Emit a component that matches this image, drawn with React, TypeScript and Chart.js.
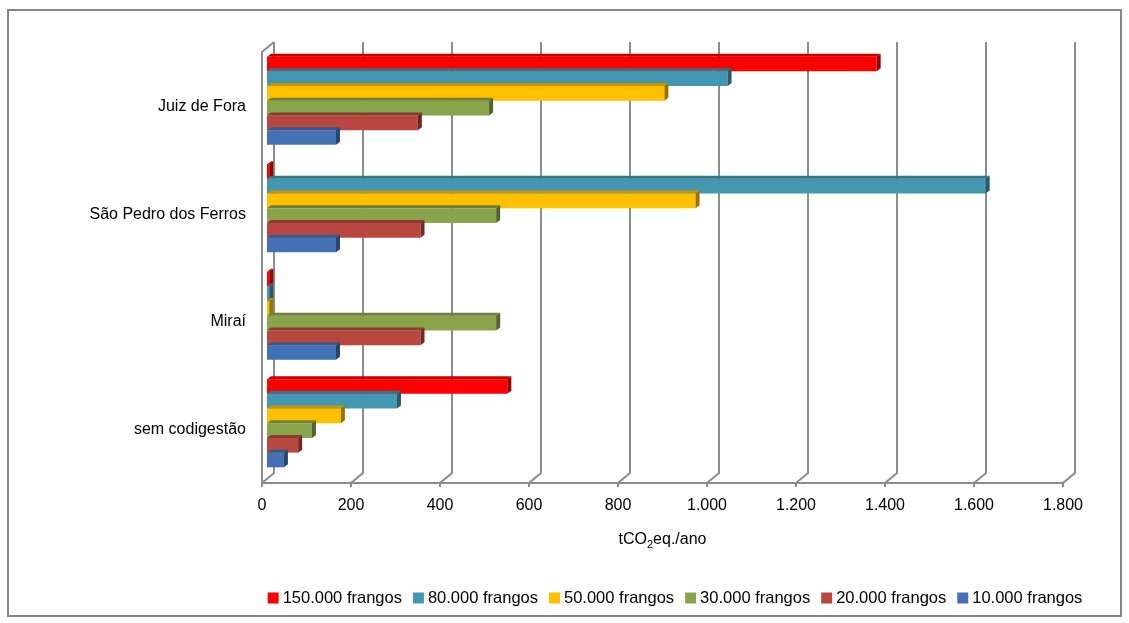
import React, { useEffect, useRef } from 'react';
import { Chart, registerables } from 'chart.js';

Chart.register(...registerables);

// ---- data ----
const categories = ['Juiz de Fora', 'São Pedro dos Ferros', 'Miraí', 'sem codigestão'];
const seriesLabels = [
  '150.000 frangos',
  '80.000 frangos',
  '50.000 frangos',
  '30.000 frangos',
  '20.000 frangos',
  '10.000 frangos',
];
const s150k = [1370, 5, 5, 540];
const s80k = [1035, 1615, 5, 292];
const s50k = [893, 963, 5, 166];
const s30k = [499, 515, 515, 101];
const s20k = [339, 345, 345, 70];
const s10k = [155, 155, 155, 38];
const seriesColors = ['#FF0000', '#4397B0', '#FFC000', '#89A54C', '#B8473F', '#4471B5'];
const tickValues = [0, 200, 400, 600, 800, 1000, 1200, 1400, 1600, 1800];
const tickLabels = ['0', '200', '400', '600', '800', '1.000', '1.200', '1.400', '1.600', '1.800'];
const axisTitleParts = ['tCO', '2', 'eq./ano'];

const FONT = '"Liberation Sans", Arial, sans-serif';

function shade(hex: string, f: number) {
  const n = parseInt(hex.slice(1), 16);
  const r = Math.round(((n >> 16) & 255) * f);
  const g = Math.round(((n >> 8) & 255) * f);
  const b = Math.round((n & 255) * f);
  return `rgb(${r},${g},${b})`;
}

const decorPlugin = {
  id: 'decor3d',
  beforeDatasetsDraw(chart: any) {
    const ctx = chart.ctx;
    const xs = chart.scales.x;
    const area = chart.chartArea;
    const frontY = area.bottom + 6;
    const backY = frontY - 10;
    const topY = 42;
    ctx.save();
    ctx.strokeStyle = '#8c8c8c';
    ctx.lineWidth = 2;
    tickValues.forEach((v) => {
      const p = xs.getPixelForValue(v);
      const xb = p + 7;
      const xf = p - 5;
      ctx.beginPath();
      ctx.moveTo(xb, topY);
      ctx.lineTo(xb, backY);
      ctx.lineTo(xf, frontY);
      ctx.lineTo(xf, frontY + 4);
      ctx.stroke();
    });
    const x0 = xs.getPixelForValue(0);
    const x1 = xs.getPixelForValue(1800);
    ctx.beginPath();
    ctx.moveTo(x0 - 5, frontY);
    ctx.lineTo(x1 - 5, frontY);
    ctx.stroke();
    // left side wall front edge
    ctx.beginPath();
    ctx.moveTo(x0 + 7, topY);
    ctx.lineTo(x0 - 5, topY + 10);
    ctx.lineTo(x0 - 5, frontY);
    ctx.stroke();
    ctx.restore();
  },
  afterDatasetsDraw(chart: any) {
    const ctx = chart.ctx;
    const dx = 4;
    const dy = -3;
    ctx.save();
    chart.data.datasets.forEach((ds: any, i: number) => {
      const meta = chart.getDatasetMeta(i);
      const col = seriesColors[i];
      meta.data.forEach((el: any) => {
        const p = el.getProps(['x', 'y', 'base', 'height'], true);
        const xs = p.base;
        const xe = p.x;
        const yt = p.y - p.height / 2;
        const yb = p.y + p.height / 2;
        ctx.fillStyle = shade(col, 0.78);
        ctx.beginPath();
        ctx.moveTo(xs, yt);
        ctx.lineTo(xs + dx, yt + dy);
        ctx.lineTo(xe + dx, yt + dy);
        ctx.lineTo(xe, yt);
        ctx.closePath();
        ctx.fill();
        ctx.fillStyle = shade(col, 0.6);
        ctx.beginPath();
        ctx.moveTo(xe, yt);
        ctx.lineTo(xe + dx, yt + dy);
        ctx.lineTo(xe + dx, yb + dy);
        ctx.lineTo(xe, yb);
        ctx.closePath();
        ctx.fill();
      });
    });
    ctx.restore();
  },
  afterDraw(chart: any) {
    const ctx = chart.ctx;
    const xs = chart.scales.x;
    const area = chart.chartArea;
    ctx.save();
    // frame
    ctx.strokeStyle = '#868686';
    ctx.lineWidth = 2;
    ctx.strokeRect(8, 10, 1113, 606);
    // tick labels (front plane)
    ctx.fillStyle = '#000';
    ctx.font = `16px ${FONT}`;
    ctx.textAlign = 'center';
    ctx.textBaseline = 'middle';
    tickValues.forEach((v, i) => {
      ctx.fillText(tickLabels[i], xs.getPixelForValue(v) - 5, area.bottom + 29);
    });
    // axis title with subscript
    const big = `16px ${FONT}`;
    const small = `11px ${FONT}`;
    ctx.font = big;
    const w0 = ctx.measureText(axisTitleParts[0]).width;
    const w2 = ctx.measureText(axisTitleParts[2]).width;
    ctx.font = small;
    const w1 = ctx.measureText(axisTitleParts[1]).width;
    const cx = (xs.getPixelForValue(0) + xs.getPixelForValue(1800)) / 2 - 5;
    let tx = cx - (w0 + w1 + w2) / 2;
    const ty = area.bottom + 63;
    ctx.textAlign = 'left';
    ctx.font = big;
    ctx.fillText(axisTitleParts[0], tx, ty);
    tx += w0;
    ctx.font = small;
    ctx.fillText(axisTitleParts[1], tx, ty + 5);
    tx += w1;
    ctx.font = big;
    ctx.fillText(axisTitleParts[2], tx, ty);
    // legend
    ctx.font = `16.5px ${FONT}`;
    const box = 11;
    const gapBox = 4;
    const gapItem = 11;
    const widths = seriesLabels.map((l) => ctx.measureText(l).width);
    const total = widths.reduce((a, b) => a + b, 0) + seriesLabels.length * (box + gapBox) + (seriesLabels.length - 1) * gapItem;
    let lx = 675 - total / 2;
    const ly = 598;
    seriesLabels.forEach((l, i) => {
      ctx.fillStyle = seriesColors[i];
      ctx.fillRect(lx, ly - box / 2, box, box);
      lx += box + gapBox;
      ctx.fillStyle = '#000';
      ctx.fillText(l, lx, ly);
      lx += widths[i] + gapItem;
    });
    ctx.restore();
  },
};

export default function App() {
  const ref = useRef<HTMLCanvasElement>(null);
  useEffect(() => {
    if (!ref.current) return;
    const seriesValues = [s150k, s80k, s50k, s30k, s20k, s10k];
    const chart = new Chart(ref.current, {
      type: 'bar',
      data: {
        labels: categories,
        datasets: seriesLabels.map((l, i) => ({
          label: l,
          data: seriesValues[i],
          backgroundColor: seriesColors[i],
          borderWidth: 0,
          categoryPercentage: 0.82,
          barPercentage: 1,
        })),
      },
      options: {
        indexAxis: 'y',
        animation: false,
        responsive: false,
        layout: { padding: { left: 0, right: 61, top: 47, bottom: 146 } },
        plugins: {
          legend: { display: false },
          tooltip: { enabled: false },
          title: { display: false },
        },
        scales: {
          x: {
            type: 'linear',
            display: false,
            min: 0,
            max: 1800,
          },
          y: {
            type: 'category',
            grid: { display: false, drawTicks: false },
            border: { display: false },
            ticks: {
              padding: 21,
              labelOffset: 6,
              color: '#000',
              font: { size: 16, family: FONT },
            },
            afterFit: (scale: any) => {
              scale.width = 267;
            },
          },
        },
      },
      plugins: [decorPlugin],
    });
    return () => chart.destroy();
  }, []);
  return (
    <div style={{ position: 'absolute', left: 0, top: 0, width: 1129, height: 623, background: '#fff' }}>
      <canvas ref={ref} width={1129} height={623} />
    </div>
  );
}
